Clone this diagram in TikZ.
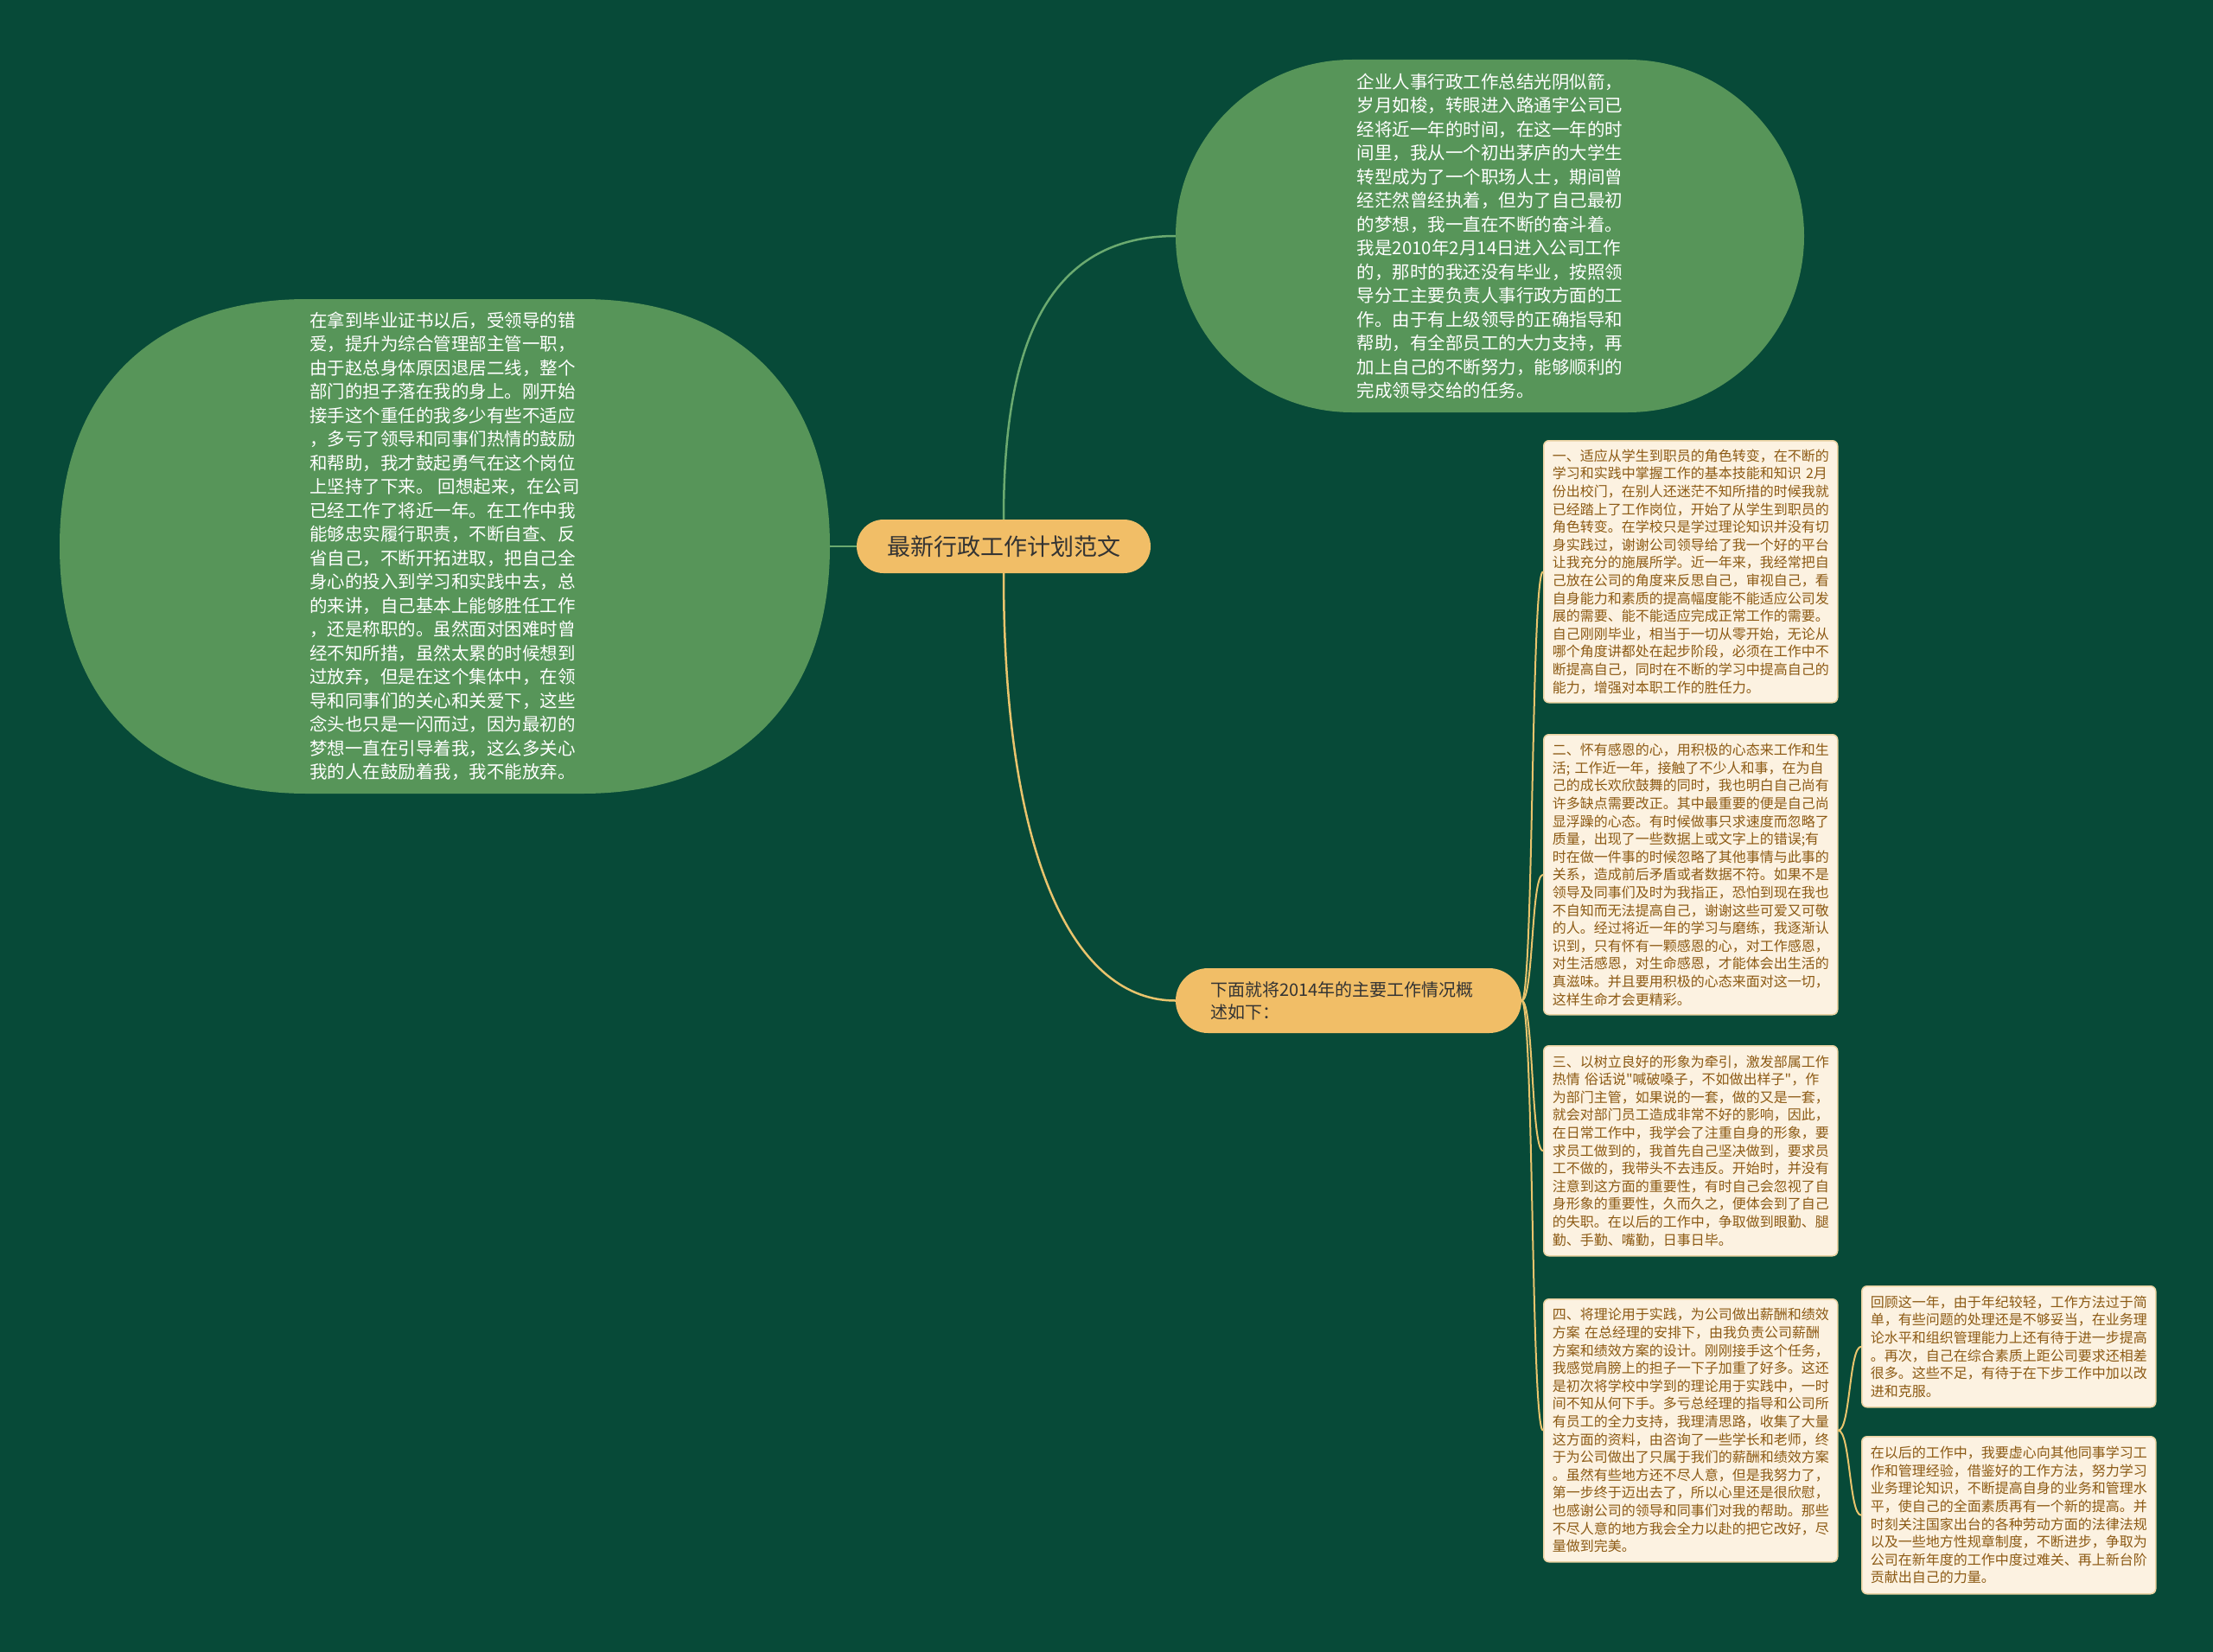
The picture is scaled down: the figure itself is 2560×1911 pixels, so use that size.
\documentclass[tikz,border=0pt]{standalone}
\usepackage{fontspec}
\setmainfont{Noto Sans CJK SC}[Ligatures=TeXOff]
\usetikzlibrary{shapes.misc}
\definecolor{bg}{HTML}{074A38}
\definecolor{leaf}{HTML}{579559}
\definecolor{orangefill}{HTML}{F1BE67}
\definecolor{cream}{HTML}{FCF2E1}
\definecolor{creamline}{HTML}{EBD3A3}
\definecolor{boxtext}{HTML}{8C5A14}
\definecolor{goldline}{HTML}{E9C46D}
\definecolor{greenline}{HTML}{6BAA70}
\tikzset{
  bigshape/.style={rounded rectangle, fill=leaf, text=white, inner sep=0pt, align=left,
    font=\fontsize{20.5}{27.5}\selectfont},
  bigtext/.style={rounded rectangle, text=white, inner sep=0pt, align=left,
    font=\fontsize{20.5}{27.5}\selectfont},
  pill/.style={rounded rectangle, fill=orangefill, text=black!80, inner sep=0pt},
  notebox/.style={rectangle, rounded corners=6pt, fill=cream, draw=creamline, line width=1.5pt,
    text width=320pt, inner xsep=10pt, inner ysep=0pt, align=left, text=boxtext,
    font=\fontsize{16}{20.6}\selectfont, anchor=north west},
  greenconn/.style={draw=greenline, line width=2.5pt},
  goldconn/.style={draw=goldline, line width=2.5pt},
  boxconn/.style={draw=goldline, line width=2pt}
}
\begin{document}
\begin{tikzpicture}[x=1pt,y=-1pt]
\useasboundingbox (0,0) rectangle (2560,1911);
\fill[bg] (0,0) rectangle (2560,1911);

% left blob outline (slightly fuller corners than a stadium)
\fill[leaf] (69,632) .. controls (69,446) and (183,346) .. (355,346) -- (674,346)
  .. controls (846,346) and (960,446) .. (960,632)
  .. controls (960,818) and (846,918) .. (674,918) -- (355,918)
  .. controls (183,918) and (69,818) .. (69,632) -- cycle;

\node[bigshape, minimum width=727pt, minimum height=408pt] (top) at (1723.5,273) {%
企业人事行政工作总结光阴似箭，\\
岁月如梭，转眼进入路通宇公司已\\
经将近一年的时间，在这一年的时\\
间里，我从一个初出茅庐的大学生\\
转型成为了一个职场人士，期间曾\\
经茫然曾经执着，但为了自己最初\\
的梦想，我一直在不断的奋斗着。\\
我是2010年2月14日进入公司工作\\
的，那时的我还没有毕业，按照领\\
导分工主要负责人事行政方面的工\\
作。由于有上级领导的正确指导和\\
帮助，有全部员工的大力支持，再\\
加上自己的不断努力，能够顺利的\\
完成领导交给的任务。};

\node[bigtext, minimum width=891pt, minimum height=572pt] (left) at (514.5,632) {%
在拿到毕业证书以后，受领导的错\\
爱，提升为综合管理部主管一职，\\
由于赵总身体原因退居二线，整个\\
部门的担子落在我的身上。刚开始\\
接手这个重任的我多少有些不适应\\
，多亏了领导和同事们热情的鼓励\\
和帮助，我才鼓起勇气在这个岗位\\
上坚持了下来。\ 回想起来，在公司\\
已经工作了将近一年。在工作中我\\
能够忠实履行职责，不断自查、反\\
省自己，不断开拓进取，把自己全\\
身心的投入到学习和实践中去，总\\
的来讲，自己基本上能够胜任工作\\
，还是称职的。虽然面对困难时曾\\
经不知所措，虽然太累的时候想到\\
过放弃，但是在这个集体中，在领\\
导和同事们的关心和关爱下，这些\\
念头也只是一闪而过，因为最初的\\
梦想一直在引导着我，这么多关心\\
我的人在鼓励着我，我不能放弃。};

\node[pill, minimum width=340pt, minimum height=62pt, font=\fontsize{27}{32}\selectfont] (c) at (1161,632) {最新行政工作计划范文};

\node[pill, minimum width=400pt, minimum height=75pt, text width=320pt, align=left,
  font=\fontsize{20}{26}\selectfont] (sub) at (1560,1157.5) {下面就将2014年的主要工作情况概\\述如下：};

\node[notebox, minimum height=303pt] (b1) at (1785,509) {%
一、适应从学生到职员的角色转变，在不断的\\
学习和实践中掌握工作的基本技能和知识 2月\\
份出校门，在别人还迷茫不知所措的时候我就\\
已经踏上了工作岗位，开始了从学生到职员的\\
角色转变。在学校只是学过理论知识并没有切\\
身实践过，谢谢公司领导给了我一个好的平台\\
让我充分的施展所学。近一年来，我经常把自\\
己放在公司的角度来反思自己，审视自己，看\\
自身能力和素质的提高幅度能不能适应公司发\\
展的需要、能不能适应完成正常工作的需要。\\
自己刚刚毕业，相当于一切从零开始，无论从\\
哪个角度讲都处在起步阶段，必须在工作中不\\
断提高自己，同时在不断的学习中提高自己的\\
能力，增强对本职工作的胜任力。};

\node[notebox, minimum height=324pt] (b2) at (1785,849) {%
二、怀有感恩的心，用积极的心态来工作和生\\
活; 工作近一年，接触了不少人和事，在为自\\
己的成长欢欣鼓舞的同时，我也明白自己尚有\\
许多缺点需要改正。其中最重要的便是自己尚\\
显浮躁的心态。有时候做事只求速度而忽略了\\
质量，出现了一些数据上或文字上的错误;有\\
时在做一件事的时候忽略了其他事情与此事的\\
关系，造成前后矛盾或者数据不符。如果不是\\
领导及同事们及时为我指正，恐怕到现在我也\\
不自知而无法提高自己，谢谢这些可爱又可敬\\
的人。经过将近一年的学习与磨练，我逐渐认\\
识到，只有怀有一颗感恩的心，对工作感恩，\\
对生活感恩，对生命感恩，才能体会出生活的\\
真滋味。并且要用积极的心态来面对这一切，\\
这样生命才会更精彩。};

\node[notebox, minimum height=243pt] (b3) at (1785,1209) {%
三、以树立良好的形象为牵引，激发部属工作\\
热情 俗话说"喊破嗓子，不如做出样子"，作\\
为部门主管，如果说的一套，做的又是一套，\\
就会对部门员工造成非常不好的影响，因此，\\
在日常工作中，我学会了注重自身的形象，要\\
求员工做到的，我首先自己坚决做到，要求员\\
工不做的，我带头不去违反。开始时，并没有\\
注意到这方面的重要性，有时自己会忽视了自\\
身形象的重要性，久而久之，便体会到了自己\\
的失职。在以后的工作中，争取做到眼勤、腿\\
勤、手勤、嘴勤，日事日毕。};

\node[notebox, minimum height=304pt] (b4) at (1785,1502) {%
四、将理论用于实践，为公司做出薪酬和绩效\\
方案 在总经理的安排下，由我负责公司薪酬\\
方案和绩效方案的设计。刚刚接手这个任务，\\
我感觉肩膀上的担子一下子加重了好多。这还\\
是初次将学校中学到的理论用于实践中，一时\\
间不知从何下手。多亏总经理的指导和公司所\\
有员工的全力支持，我理清思路，收集了大量\\
这方面的资料，由咨询了一些学长和老师，终\\
于为公司做出了只属于我们的薪酬和绩效方案\\
。虽然有些地方还不尽人意，但是我努力了，\\
第一步终于迈出去了，所以心里还是很欣慰，\\
也感谢公司的领导和同事们对我的帮助。那些\\
不尽人意的地方我会全力以赴的把它改好，尽\\
量做到完美。};

\node[notebox, minimum height=140pt] (b5) at (2153,1487) {%
回顾这一年，由于年纪较轻，工作方法过于简\\
单，有些问题的处理还是不够妥当，在业务理\\
论水平和组织管理能力上还有待于进一步提高\\
。再次，自己在综合素质上距公司要求还相差\\
很多。这些不足，有待于在下步工作中加以改\\
进和克服。};

\node[notebox, minimum height=182pt] (b6) at (2153,1661) {%
在以后的工作中，我要虚心向其他同事学习工\\
作和管理经验，借鉴好的工作方法，努力学习\\
业务理论知识，不断提高自身的业务和管理水\\
平，使自己的全面素质再有一个新的提高。并\\
时刻关注国家出台的各种劳动方面的法律法规\\
以及一些地方性规章制度，不断进步，争取为\\
公司在新年度的工作中度过难关、再上新台阶\\
贡献出自己的力量。};

% connectors
\draw[greenconn] (c.west) -- (left.east);
\draw[greenconn] (c.north) .. controls +(0,-181) and +(-160,0) .. (top.west);
\draw[goldconn] (c.south) .. controls +(0,337) and +(-115,0) .. (sub.west);
\foreach \b in {b1,b2,b3,b4}
  \draw[boxconn] (sub.east) .. controls +(14,0) and +(-14,0) .. (\b.west);
\foreach \b in {b5,b6}
  \draw[boxconn] (b4.east) .. controls +(14,0) and +(-14,0) .. (\b.west);
\end{tikzpicture}
\end{document}
